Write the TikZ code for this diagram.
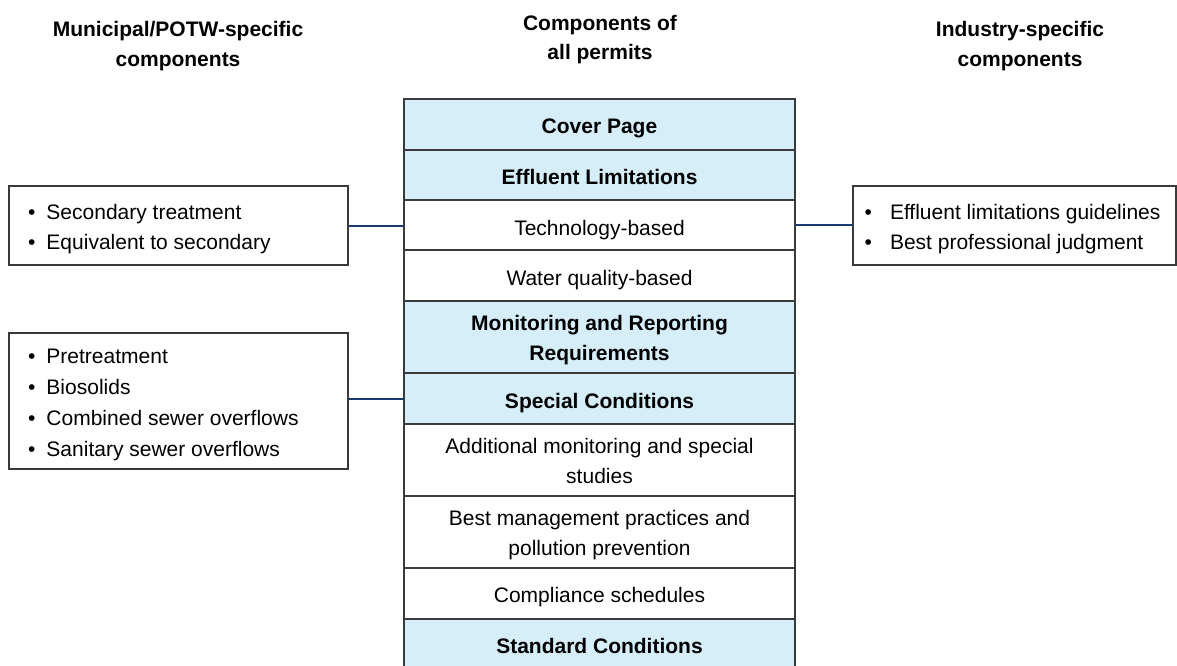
\documentclass[tikz,border=0pt]{standalone}
\usepackage{fontspec}
\setmainfont{Liberation Sans}
\definecolor{rowblue}{HTML}{D5EEFA}
\definecolor{boxline}{HTML}{3A3A3A}
\definecolor{navy}{HTML}{1B3A6E}
% #1 baselineskip, #2 raise, #3 column type, #4 lines
\newcommand\blk[4]{\raisebox{#2}[\height][\depth]{\fontsize{21}{#1}\selectfont\begin{tabular}{@{}#3@{}}#4\end{tabular}}}
\newcommand\bul[1]{\makebox[#1][l]{•}}
\begin{document}
\begin{tikzpicture}[x=1pt,y=-1pt,
  txt/.style={font=\fontsize{21}{30}\selectfont},
  row/.style={txt,draw=boxline,line width=1.1pt,minimum width=391pt,inner sep=0pt,outer sep=0pt},
  blue/.style={row,fill=rowblue,font=\fontsize{21}{30}\selectfont\bfseries},
  plain/.style={row,fill=white},
  sidebox/.style={txt,draw=boxline,line width=1.1pt,fill=white,inner ysep=0pt,outer sep=0pt},
  header/.style={font=\fontsize{21}{30}\selectfont\bfseries,inner sep=0pt},
  link/.style={draw=navy,line width=2pt}]
\useasboundingbox (0,0) rectangle (1177,666);
% headers
\node[header] (h1) at (178,45.5) {\blk{29.5pt}{0pt}{c}{Municipal/POTW-specific\\components}};
\node[header] (h2) at (600,39.7) {\blk{29pt}{0pt}{c}{Components of\\all permits}};
\node[header] (h3) at (1020,45.5) {\blk{29.5pt}{0pt}{c}{Industry-specific\\components}};
% central column
\node[blue,minimum height=51pt] (cover) at (599.5,124.5) {\blk{30pt}{-3pt}{c}{Cover Page}};
\node[blue,minimum height=50pt] (eff) at (599.5,175) {\blk{30pt}{-3.8pt}{c}{Effluent Limitations}};
\node[plain,minimum height=50pt] (tech) at (599.5,225) {\blk{30pt}{-4.2pt}{c}{Technology-based}};
\node[plain,minimum height=51pt] (wq) at (599.5,275.5) {\blk{30pt}{-3.5pt}{c}{Water quality-based}};
\node[blue,minimum height=72pt] (mon) at (599.5,337) {\blk{30pt}{-2.5pt}{c}{Monitoring and Reporting\\Requirements}};
\node[blue,minimum height=51pt] (spec) at (599.5,398.5) {\blk{30pt}{-3.5pt}{c}{Special Conditions}};
\node[plain,minimum height=72pt] (add) at (599.5,460) {\blk{30pt}{-2.3pt}{c}{Additional monitoring and special\\studies}};
\node[plain,minimum height=72pt] (bmp) at (599.5,532) {\blk{30pt}{-2.2pt}{c}{Best management practices and\\pollution prevention}};
\node[plain,minimum height=51pt] (comp) at (599.5,593.5) {\blk{30pt}{-3.2pt}{c}{Compliance schedules}};
\node[blue,minimum height=51pt] (std) at (599.5,644.5) {\blk{30pt}{-3pt}{c}{Standard Conditions}};
% side boxes
\node[sidebox,inner xsep=19pt,minimum height=79pt] (lb1) at (178.5,225.5)
  {\makebox[301pt][l]{\blk{29.5pt}{-3.3pt}{l}{\bul{18.5pt}Secondary treatment\\\bul{18.5pt}Equivalent to secondary}}};
\node[sidebox,inner xsep=19pt,minimum height=136pt] (lb2) at (178.5,401)
  {\makebox[301pt][l]{\blk{31pt}{-2.6pt}{l}{\bul{18.5pt}Pretreatment\\\bul{18.5pt}Biosolids\\\bul{18.5pt}Combined sewer overflows\\\bul{18.5pt}Sanitary sewer overflows}}};
\node[sidebox,inner xsep=11.5pt,minimum height=79pt] (rb) at (1014.5,225.5)
  {\makebox[300pt][l]{\blk{29.5pt}{-3.3pt}{l}{\bul{25.5pt}Effluent limitations guidelines\\\bul{25.5pt}Best professional judgment}}};
% connectors
\draw[link] (lb1.east) -- (lb1.east -| tech.west);
\draw[link] (tech.east) -- (tech.east -| rb.west);
\draw[link] (spec.west -| lb2.east) -- (spec.west);
\end{tikzpicture}
\end{document}
